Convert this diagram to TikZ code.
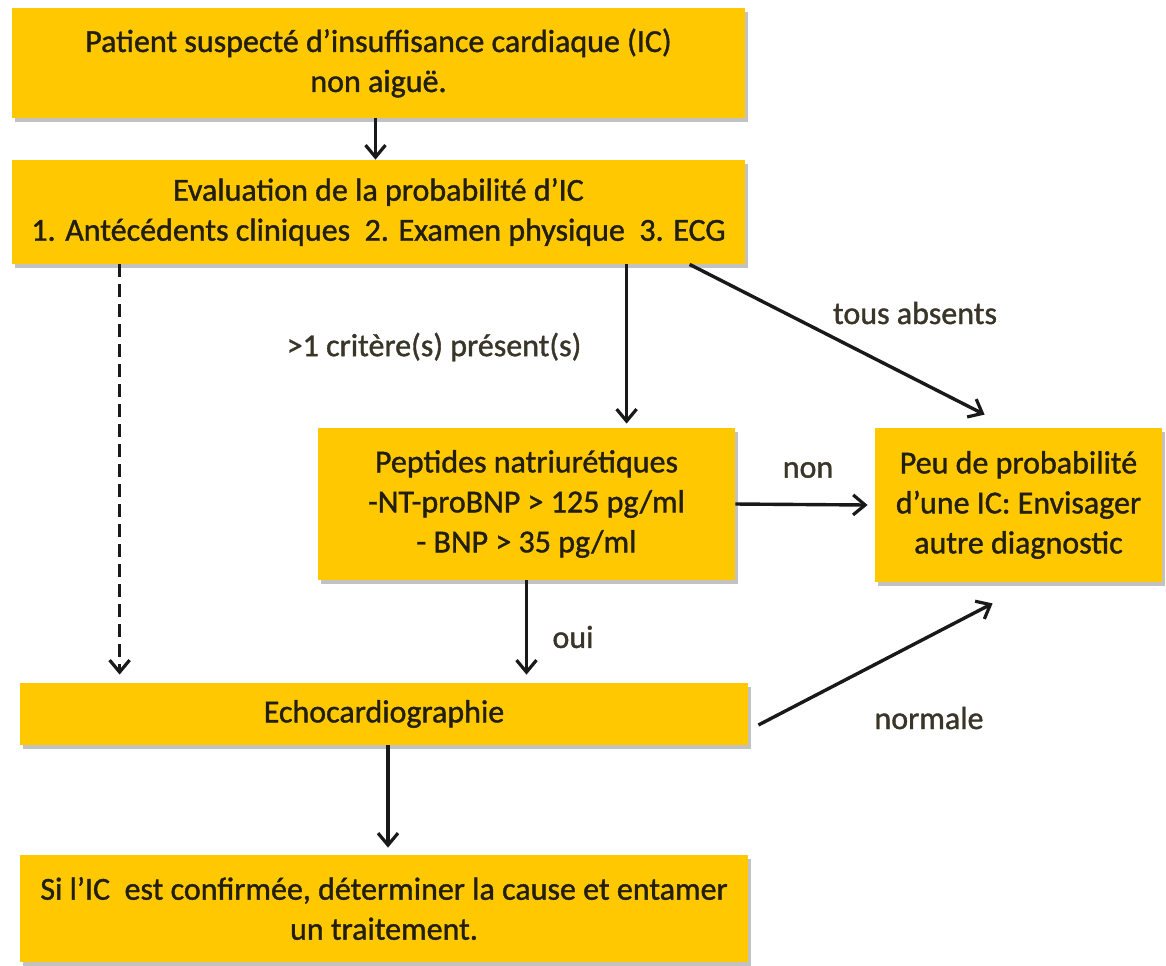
\documentclass[tikz,border=0pt]{standalone}
\usepackage{fontspec}
\setmainfont{Carlito}
\newfontfamily\semib{Carlito}[FakeBold=1.2]
\usetikzlibrary{arrows.meta,shadows,calc}
\definecolor{boxyellow}{HTML}{FFC800}
\definecolor{txt}{HTML}{231F10}
\tikzset{
  box/.style={rectangle, fill=boxyellow, align=center, inner sep=2pt, text=txt,
    font=\semib\fontsize{16}{20}\selectfont,
    drop shadow={shadow xshift=1.5pt, shadow yshift=-2pt, fill=black!40, opacity=0.6}},
  conn/.style={draw=black!90, line width=1.7pt, -{Straight Barb[length=6pt,width=10pt,line width=1.6pt]}},
  dashconn/.style={conn, dash pattern=on 6.5pt off 3.5pt},
  lbl/.style={font=\semib\fontsize{16}{20}\selectfont, inner sep=0pt, text=txt!90}
}
\begin{document}
\begin{tikzpicture}[x=0.5pt,y=-0.5pt]
\useasboundingbox (0,0) rectangle (1166,965);
\node[box, minimum width=366.5pt, minimum height=55pt] (b1) at (378.5,63)
  {Patient suspecté d’insuffisance cardiaque (IC)\\non aiguë.};
\node[box, minimum width=366.5pt, minimum height=52pt] (b2) at (378.5,212)
  {Evaluation de la probabilité d’IC\\1. Antécédents cliniques\ \ 2. Examen physique\ \ 3. ECG};
\node[box, minimum width=208.5pt, minimum height=76pt] (b3) at (526.5,504)
  {Peptides natriurétiques\\-NT-proBNP > 125 pg/ml\\- BNP > 35 pg/ml};
\node[box, minimum width=143.5pt, minimum height=77pt] (b4) at (1018.5,505)
  {Peu de probabilité\\d’une IC: Envisager\\autre diagnostic};
\node[box, minimum width=364pt, minimum height=31pt] (b5) at (384,714)
  {Echocardiographie};
\node[box, minimum width=364pt, minimum height=53.5pt] (b6) at (384,908.5)
  {Si l’IC\ \ est confirmée, déterminer la cause et entamer\\un traitement.};

\node[lbl] (l1) at (434,347) {>1 critère(s) présent(s)};
\node[lbl] (l2) at (915,313) {tous absents};
\node[lbl] (l3) at (808,470) {non};
\node[lbl] (l4) at (573,637) {oui};
\node[lbl] (l5) at (929,718) {normale};

\draw[conn] ($(b1.south)+(-3,0)$) -- ($(b2.north)+(-3,0)$);
\draw[dashconn] ($(b2.south west)+(108,0)$) -- ($(b5.north west)+(100,-8)$);
\draw[conn] ($(b2.south west)+(615,0)$) -- ($(b3.north west)+(309,-4)$);
\draw[conn] ($(b2.south west)+(678,0)$) -- ($(b4.north west)+(110,-13)$);
\draw[conn] (b3.east) -- ($(b4.west)+(-7,0)$);
\draw[conn] (b3.south) -- ($(b5.north -| b3.south)+(0,-8)$);
\draw[conn] ($(b5.east)+(10,11)$) -- ($(b4.south west)+(118,21)$);
\draw[conn] ($(b5.south)+(4,0)$) -- ($(b6.north)+(4,-7)$);
\end{tikzpicture}
\end{document}
